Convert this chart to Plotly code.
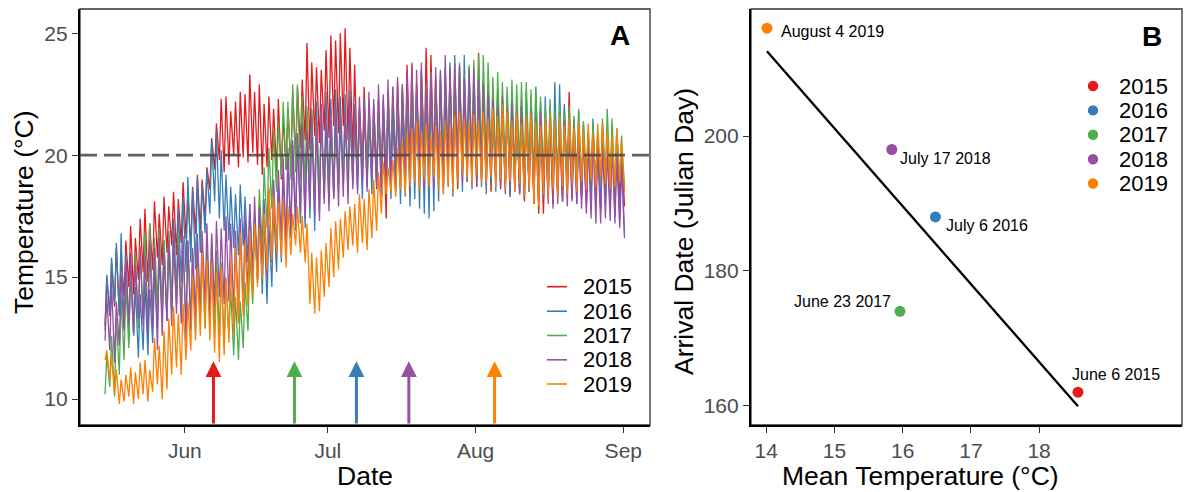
import numpy as np
import pandas as pd
import plotly.graph_objects as go

FONT = "Liberation Sans, Arial, Helvetica, sans-serif"

years = [2015, 2016, 2017, 2018, 2019]
year_labels = ["2015", "2016", "2017", "2018", "2019"]
colors = ["#E41A1C", "#377EB8", "#4DAF4A", "#984EA3", "#FF7F00"]

# Panel A: daily water temperature minima / maxima (deg C), 15 May .. 1 Sep
start_date = "2019-05-15"

low_2015 = [13.0,13.4,13.8,13.5,14.2,14.6,14.3,14.9,15.2,14.8,
            15.3,15.8,15.5,16.0,16.3,15.9,16.4,16.6,16.2,16.8,
            16.9,17.4,18.6,19.4,19.8,19.3,19.6,20.0,19.5,19.9,
            19.7,20.1,19.6,19.2,19.5,19.8,19.3,19.0,19.4,19.6,
            19.9,20.3,20.6,20.2,20.8,20.5,21.0,20.7,21.2,20.9,
            21.2,20.6,20.1,19.2,19.6,18.9,19.3,18.6,19.0,17.4,
            19.2,18.7,19.4,19.0,19.6,19.1,19.5,19.8,19.3,19.6,
            19.1,18.8,19.4,19.0,18.6,19.2,18.9,19.3,18.7,19.0,
            18.8,18.5,19.0,18.6,18.9,18.3,18.7,18.4,18.1,18.5,
            18.0,17.6,17.6,18.3,18.0,18.4,18.1,18.6,18.2,18.5,
            18.3,18.0,18.4,18.1,17.8,18.2,17.9,18.3,18.0,17.9]
high_2015 = [15.0,15.6,16.2,15.8,16.5,17.1,16.6,17.4,17.8,17.2,
             18.1,17.6,18.3,17.9,18.5,18.2,18.9,18.4,18.7,19.2,
             19.0,19.5,20.7,21.3,22.3,22.4,21.8,22.2,22.6,22.5,
             23.3,22.6,22.9,22.1,22.4,21.9,22.3,21.6,21.9,22.6,
             22.8,23.1,24.6,23.8,23.6,23.5,24.3,24.9,24.7,25.0,
             25.2,24.4,23.7,21.9,22.8,22.1,21.5,22.3,21.8,22.6,
             22.4,23.0,22.7,23.7,23.7,22.9,23.5,24.4,24.1,23.2,
             23.1,22.6,23.4,22.8,23.3,22.9,23.6,22.7,24.2,23.0,
             22.4,22.0,22.6,21.8,22.2,21.7,22.3,21.9,21.5,22.0,
             21.6,21.3,21.0,21.4,21.8,21.2,21.9,22.6,21.5,21.2,
             21.0,20.6,21.2,20.8,20.5,21.0,20.7,20.9,20.4,19.8]

low_2016 = [12.8,13.5,13.9,13.4,12.9,12.4,12.6,11.7,12.0,11.8,
            12.3,12.9,13.4,13.2,13.9,14.3,14.8,15.2,15.6,15.3,
            16.0,16.8,17.6,18.1,17.4,16.9,16.5,16.2,15.9,16.3,
            15.6,15.2,14.8,14.3,13.9,14.6,15.2,15.6,16.1,16.6,
            16.9,17.2,17.0,17.4,16.9,17.6,18.2,18.6,18.3,18.8,
            18.9,18.5,19.0,18.6,18.2,18.7,18.4,18.9,18.3,18.6,
            18.2,18.5,18.0,18.3,17.9,18.2,17.8,17.6,17.4,17.7,
            18.1,18.4,18.7,18.3,18.8,18.5,18.9,18.6,19.0,18.7,
            18.4,18.8,18.5,18.9,18.6,18.3,18.7,18.4,18.2,18.5,
            18.3,18.6,18.2,18.5,18.8,18.4,18.1,18.5,18.2,18.0,
            18.2,17.9,18.3,18.0,17.7,18.1,17.8,17.5,17.3,16.8]
high_2016 = [15.1,15.8,16.4,16.8,16.0,15.2,14.6,14.3,14.8,14.5,
             15.2,15.8,16.5,16.9,17.4,17.8,18.3,19.1,18.6,19.1,
             18.8,19.4,20.6,21.0,20.2,19.2,18.7,18.4,18.8,18.3,
             18.0,17.6,17.8,17.4,17.2,17.9,18.6,19.3,19.8,20.4,
             20.8,21.2,21.5,21.9,22.2,21.8,22.6,22.3,22.7,22.4,
             22.5,22.7,22.1,21.8,22.3,21.6,22.0,21.7,22.2,21.9,
             21.8,22.3,21.9,22.5,22.1,22.7,22.4,22.9,23.2,23.0,
             23.5,23.2,23.8,24.1,23.6,24.1,23.4,23.0,22.8,23.1,
             22.3,21.9,22.4,22.0,22.5,22.1,21.8,22.3,22.6,22.4,
             22.8,22.2,22.4,22.0,23.0,22.9,22.1,21.7,21.4,21.8,
             21.3,21.0,21.5,20.9,21.2,20.6,21.0,20.4,20.1,19.5]

low_2017 = [10.2,10.5,10.1,11.0,11.6,12.1,12.6,12.9,13.3,13.0,
            13.4,13.8,13.5,13.2,13.6,13.9,13.4,13.0,13.3,12.8,
            13.1,12.9,13.3,12.8,12.5,12.2,12.7,11.8,11.6,12.1,
            12.8,13.9,15.0,16.2,17.0,17.8,18.5,19.1,19.4,19.0,
            19.3,19.0,18.7,18.9,18.4,18.6,18.2,18.0,18.3,18.7,
            18.9,19.2,18.8,19.3,19.0,19.5,19.1,19.4,19.6,19.2,
            19.4,19.7,19.3,19.8,19.5,19.9,19.6,20.0,19.7,19.4,
            19.8,19.5,19.9,19.6,20.0,19.7,19.5,19.9,19.6,19.8,
            19.6,19.9,19.5,19.8,19.4,19.7,19.3,19.6,19.2,19.5,
            19.1,19.4,19.0,19.3,18.9,19.2,18.8,19.1,18.9,19.2,
            18.9,19.2,18.8,19.0,18.7,19.1,18.8,18.6,18.9,18.7]
high_2017 = [11.8,12.6,13.4,14.2,14.8,15.5,16.0,16.3,16.8,17.2,
             16.6,17.0,16.5,16.8,16.3,16.7,16.2,16.5,16.0,16.4,
             16.0,16.2,16.6,16.1,15.6,14.9,14.5,14.2,14.0,14.8,
             15.9,17.4,18.6,19.5,20.3,21.0,21.4,22.2,22.2,22.9,
             22.9,22.4,22.0,21.8,21.4,21.7,21.2,21.6,21.0,21.5,
             21.3,21.9,21.5,22.0,21.6,21.8,22.1,21.7,22.3,22.6,
             22.8,22.4,22.9,22.6,23.1,22.7,23.3,22.9,23.4,23.0,
             23.2,23.6,23.0,23.5,23.8,23.3,23.7,23.9,24.1,24.1,
             23.8,23.2,23.4,23.0,22.8,23.1,22.9,23.0,23.0,22.7,
             22.8,22.4,22.0,22.3,21.8,22.1,21.7,22.0,21.6,21.9,
             21.4,21.0,21.3,20.9,21.5,21.9,21.5,21.1,20.8,20.1]

low_2018 = [12.4,12.0,11.5,12.2,12.8,13.1,12.7,13.3,13.0,12.6,
            12.9,12.0,12.6,13.2,13.0,13.5,13.1,12.4,12.8,13.3,
            13.6,13.9,13.4,13.8,14.2,13.9,14.0,13.5,13.2,13.7,
            14.2,14.6,14.9,15.3,15.0,15.6,16.0,16.4,16.2,16.8,
            17.2,17.6,17.4,17.9,17.5,17.3,18.0,17.7,18.2,17.9,
            18.3,18.0,18.6,18.4,18.9,18.5,19.0,18.7,18.4,18.8,
            18.6,19.0,18.7,19.1,18.8,19.2,18.9,18.6,19.0,18.7,
            19.0,18.7,19.1,18.8,19.2,18.9,19.3,19.0,18.7,19.1,
            18.8,19.1,19.1,18.7,18.4,18.8,18.5,18.5,18.2,18.6,
            18.3,18.1,18.4,18.0,17.8,18.0,18.2,17.9,18.1,18.0,
            17.8,17.6,17.4,17.2,17.2,17.4,17.3,17.2,17.0,16.6]
high_2018 = [14.2,14.8,14.0,15.1,15.6,16.0,15.5,16.2,15.9,16.4,
             16.2,16.6,16.0,16.5,16.8,16.3,16.7,16.5,16.2,16.8,
             16.9,17.2,16.8,17.3,17.0,17.5,17.2,16.9,17.4,17.6,
             18.0,18.3,17.9,18.2,18.6,19.0,19.4,19.9,20.3,20.6,
             20.9,21.3,21.0,21.6,21.4,22.1,21.7,21.5,21.9,21.6,
             21.8,22.1,21.7,22.4,22.0,22.6,22.3,22.9,22.5,23.1,
             22.8,23.2,22.9,23.4,23.8,23.5,23.8,23.0,23.3,23.6,
             23.4,24.1,23.6,23.8,23.7,23.2,23.5,23.6,23.1,22.9,
             22.6,22.3,22.0,22.4,21.9,22.2,21.7,22.0,21.6,21.8,
             21.5,21.8,21.3,21.6,21.2,21.0,21.4,20.9,21.2,20.8,
             20.9,20.5,20.8,20.3,20.6,20.2,20.5,20.0,19.6,19.0]

low_2019 = [11.6,10.8,10.2,9.8,9.9,10.1,9.8,10.0,10.2,9.9,
            10.3,10.6,10.0,10.4,11.0,11.3,11.0,11.6,12.0,12.4,
            12.6,12.9,12.4,11.9,11.5,11.8,12.3,12.7,13.1,13.4,
            13.8,14.2,14.6,14.9,15.3,15.7,16.0,15.8,15.4,15.9,
            16.3,16.0,15.6,13.9,13.5,13.6,14.2,14.6,15.0,15.3,
            15.8,16.1,16.3,16.0,16.4,16.1,16.6,16.9,17.6,18.4,
            18.5,18.3,18.6,18.4,18.7,18.9,18.6,19.0,18.7,19.1,
            18.6,18.4,18.8,18.5,18.9,19.2,19.1,18.8,19.2,18.9,
            18.8,19.1,18.7,19.0,18.6,18.9,18.5,18.8,18.3,18.6,
            18.0,17.9,18.4,18.2,18.6,18.3,18.7,18.4,18.8,18.5,
            18.9,18.6,19.0,18.7,19.1,18.8,18.6,18.7,18.9,18.5]
high_2019 = [12.0,11.8,11.2,10.8,11.0,11.3,11.1,11.5,11.6,11.2,
             12.5,12.2,12.8,13.3,13.8,13.5,13.9,14.0,15.0,15.4,
             16.0,15.7,15.6,15.2,15.4,15.0,15.7,16.2,16.8,16.4,
             16.9,17.2,17.0,17.6,18.7,18.3,18.1,18.2,17.9,17.6,
             17.9,17.5,17.2,16.0,15.8,16.1,16.4,17.0,17.3,17.4,
             17.7,17.9,18.0,18.4,18.2,18.6,19.0,19.3,19.7,19.5,
             19.8,20.3,20.6,20.9,21.1,21.4,21.0,21.3,20.8,21.2,
             21.0,21.4,21.2,21.6,21.8,21.5,21.3,21.7,21.4,21.8,
             21.5,21.9,21.6,22.1,21.8,21.4,21.7,21.3,21.6,21.7,
             21.4,21.2,21.5,21.7,21.3,21.6,21.2,21.5,21.1,21.4,
             21.0,21.3,20.9,21.3,21.3,21.0,20.8,21.1,20.6,20.3]

daily_lows = [low_2015, low_2016, low_2017, low_2018, low_2019]
daily_highs = [high_2015, high_2016, high_2017, high_2018, high_2019]

threshold_temp = 20
# arrival arrows (plotted dates on the common seasonal axis)
arrow_dates = ["2019-06-07", "2019-07-07", "2019-06-24", "2019-07-18", "2019-08-05"]
arrow_tip_temp = 11.55

# Panel B
mean_temp = [18.57, 16.48, 15.96, 15.84, 14.01]
arrival_day = [162, 188, 174, 198, 216]
arrival_labels = ["June 6 2015", "July 6 2016", "June 23 2017", "July 17 2018", "August 4 2019"]

# ---------------- layout constants ----------------
# The page body has an 8px margin, so the figure is drawn at (8, 8).
OFF = 8
W, H = 1194, 484
# desired plot area in page pixels: x 80..1182, y 9..425
P_L, P_R, P_T, P_B = 80, 1182, 9, 425
ML, MT = P_L - OFF, P_T - OFF
MR, MB = (OFF + W) - P_R, (OFF + H) - P_B
PW, PH = P_R - P_L, P_B - P_T


def px_x(p):
    return (p - P_L) / PW


def px_y(p):
    return (P_B - p) / PH


fig = go.Figure()

base = pd.Timestamp(start_date)
for yr, c, lo, hi in zip(years, colors, daily_lows, daily_highs):
    xs, ys = [], []
    n = len(lo)
    for i in range(n):
        xs.append(base + pd.Timedelta(days=i, hours=6))
        ys.append(lo[i])
        if i < n - 1:
            xs.append(base + pd.Timedelta(days=i, hours=15))
            ys.append(hi[i])
    fig.add_trace(go.Scatter(x=xs, y=ys, mode="lines", line=dict(color=c, width=1.3),
                             name=str(yr), showlegend=False, xaxis="x", yaxis="y",
                             hoverinfo="skip"))

# regression line panel B
slope, intercept = np.polyfit(mean_temp, arrival_day, 1)
xr = [min(mean_temp), max(mean_temp)]
fig.add_trace(go.Scatter(x=xr, y=[slope * v + intercept for v in xr], mode="lines",
                         line=dict(color="black", width=2.3), showlegend=False,
                         xaxis="x2", yaxis="y2"))
for yr, c, mt, ad in zip(years, colors, mean_temp, arrival_day):
    fig.add_trace(go.Scatter(x=[mt], y=[ad], mode="markers", marker=dict(size=11, color=c),
                             name=str(yr), showlegend=False, xaxis="x2", yaxis="y2"))

X_RANGE = ["2019-05-10", "2019-09-06 14:24"]
Y_RANGE = [8.94, 25.99]
X2_RANGE = [13.776, 20.095]
Y2_RANGE = [157.14, 218.84]

axis_common = dict(showgrid=False, zeroline=False, showline=True, linecolor="black", linewidth=2.2,
                   ticks="outside", ticklen=6, tickwidth=1.4, tickcolor="#333333",
                   tickfont=dict(size=21, color="#4d4d4d", family=FONT))

fig.update_layout(
    width=W, height=H, margin=dict(l=ML, r=MR, t=MT, b=MB),
    plot_bgcolor="white", paper_bgcolor="white", showlegend=False,
    font=dict(family=FONT, color="black"),
    xaxis=dict(domain=[0, px_x(650)], type="date", range=X_RANGE,
               tickvals=["2019-06-01", "2019-07-01", "2019-08-01", "2019-09-01"],
               ticktext=["Jun", "Jul", "Aug", "Sep"], anchor="y", **axis_common),
    yaxis=dict(domain=[0, 1], range=Y_RANGE, tickvals=[10, 15, 20, 25], anchor="x", **axis_common),
    xaxis2=dict(domain=[px_x(751), 1.0], range=X2_RANGE, tickvals=[14, 15, 16, 17, 18],
                anchor="y2", **axis_common),
    yaxis2=dict(domain=[0, 1], range=Y2_RANGE, tickvals=[160, 180, 200], anchor="x2", **axis_common),
)

shapes = []
# panel borders (thin) for top/right
for xd in ["x", "x2"]:
    yd = "y" if xd == "x" else "y2"
    shapes.append(dict(type="rect", xref=f"{xd} domain", yref=f"{yd} domain", x0=0, x1=1, y0=0, y1=1,
                       line=dict(color="#333333", width=1.3), layer="below"))
# 20 degree threshold
shapes.append(dict(type="line", xref="x domain", yref="y", x0=0, x1=1, y0=threshold_temp, y1=threshold_temp,
                   line=dict(color="rgba(70,70,70,0.85)", width=2.6, dash="17px,7px"), layer="above"))

# manual legends
leg_a_y = [286.7, 311.2, 335.5, 359.8, 384.0]
for c, lab, yy in zip(colors, year_labels, leg_a_y):
    shapes.append(dict(type="line", xref="paper", yref="paper", x0=px_x(547), x1=px_x(567),
                       y0=px_y(yy), y1=px_y(yy), line=dict(color=c, width=1.6)))
leg_b_y = [86.0, 110.4, 134.8, 159.2, 183.5]
for c, yy in zip(colors, leg_b_y):
    shapes.append(dict(type="circle", xref="paper", yref="paper",
                       x0=px_x(1093 - 5.2), x1=px_x(1093 + 5.2), y0=px_y(yy + 5.2), y1=px_y(yy - 5.2),
                       fillcolor=c, line=dict(width=0)))
fig.update_layout(shapes=shapes)

ann = []
for c, lab, yy in zip(colors, year_labels, leg_a_y):
    ann.append(dict(xref="paper", yref="paper", x=px_x(581), y=px_y(yy), text=lab, showarrow=False,
                    xanchor="left", yanchor="middle", font=dict(size=22, color="black")))
for c, lab, yy in zip(colors, year_labels, leg_b_y):
    ann.append(dict(xref="paper", yref="paper", x=px_x(1117), y=px_y(yy), text=lab, showarrow=False,
                    xanchor="left", yanchor="middle", font=dict(size=22, color="black")))

# arrows
for c, d in zip(colors, arrow_dates):
    ann.append(dict(xref="x", yref="y", axref="x", ayref="y", x=d, y=arrow_tip_temp, ax=d, ay=Y_RANGE[0],
                    text="", showarrow=True, arrowhead=2, arrowsize=1.05, arrowwidth=3,
                    arrowcolor=c, standoff=0))

# point labels (pixel offsets)
label_offsets = [(38, -18, "center"), (9, 9, "left"), (-7, -10, "right"), (6, 9, "left"), (12, 3, "left")]
for lab, mt, ad, (dx, dy, anc) in zip(arrival_labels, mean_temp, arrival_day, label_offsets):
    ann.append(dict(xref="x2", yref="y2", x=mt, y=ad, text=lab, showarrow=False, xanchor=anc,
                    yanchor="middle", xshift=dx, yshift=-dy, font=dict(size=16, color="black")))

# axis titles & panel letters
ann.append(dict(xref="paper", yref="paper", x=px_x(365), y=px_y(476), text="Date", showarrow=False,
                xanchor="center", yanchor="middle", font=dict(size=26.5)))
ann.append(dict(xref="paper", yref="paper", x=px_x(920), y=px_y(476), text="Mean Temperature (°C)",
                showarrow=False, xanchor="center", yanchor="middle", font=dict(size=26.5)))
ann.append(dict(xref="paper", yref="paper", x=px_x(24), y=px_y(212), text="Temperature (°C)",
                showarrow=False, textangle=-90, xanchor="center", yanchor="middle", font=dict(size=26.5)))
ann.append(dict(xref="paper", yref="paper", x=px_x(684), y=px_y(232), text="Arrival Date (Julian Day)",
                showarrow=False, textangle=-90, xanchor="center", yanchor="middle", font=dict(size=26.5)))
ann.append(dict(xref="paper", yref="paper", x=px_x(620), y=px_y(36), text="<b>A</b>", showarrow=False,
                xanchor="center", yanchor="middle", font=dict(size=28)))
ann.append(dict(xref="paper", yref="paper", x=px_x(1152), y=px_y(37), text="<b>B</b>", showarrow=False,
                xanchor="center", yanchor="middle", font=dict(size=28)))
fig.update_layout(annotations=ann)

fig.write_html("out.html")
